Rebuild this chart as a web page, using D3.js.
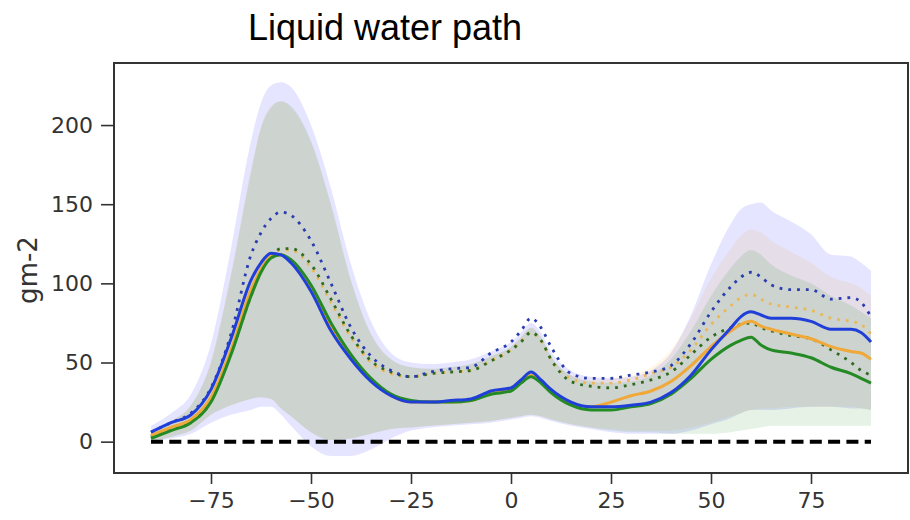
<!DOCTYPE html>
<html>
<head>
<meta charset="utf-8">
<script src="https://cdn.jsdelivr.net/npm/d3@7"></script>
<style>
  html, body { margin: 0; padding: 0; background: #fff; }
  svg { display: block; }
</style>
</head>
<body>
<svg id="chart" width="910" height="520"></svg>
<script>
// ---------- data ----------
const title = "Liquid water path";
const yLabel = "gm-2";
const xTicks = [-75, -50, -25, 0, 25, 50, 75];
const yTicks = [0, 50, 100, 150, 200];

const lat = [-90,-85,-80,-75,-70,-65,-62.5,-60,-57.5,-55,-50,-45,-40,-35,-30,-25,-20,-15,-10,-5,
  0,2.5,5,7.5,10,15,20,25,30,35,40,45,50,55,57.5,60,62.5,65,70,75,80,85,87.5,90];

const blueSolid = [6,12,17,33,65,102,113,119,118,113,95,70,52,38,29,25,25,26,27,32,
  34,39,44,39,33,25,22,22,23,25,31,42,58,72,79,82,80,78,78,76,71,71,69,63];
const greenSolid = [2,7,12,25,55,92,107,116,118,115,99,75,55,40,30,26,25,25,26,30,
  32,37,41,37,31,23,20,20,22,24,30,40,52,61,64,66,61,58,56,53,47,43,40,37];
const orangeSolid = [4,9,14,28,58,96,109,117,118,114,97,72,53,39,29,25,25,25,26,31,
  33,38,42,38,32,24,22,25,29,32,38,48,60,70,74,76,73,71,68,65,60,57,56,52];

const blueDotted = [6,12,18,34,68,118,132,141,145,143,127,100,72,54,45,41,44,46,47,56,
  63,70,78,72,60,43,40,40,42,44,48,62,82,98,104,107,104,99,96,96,90,91,88,79];
const greenDotted = [3,8,13,26,56,92,108,117,122,122,112,90,67,51,44,41,43,44,45,51,
  58,63,69,64,52,38,35,34,36,39,44,55,66,72,74,75,72,70,67,65,58,50,45,42];
const orangeDotted = [3,8,13,26,57,93,109,118,121,121,110,88,66,50,43,41,43,44,45,51,
  58,63,69,64,52,40,37,37,39,43,47,58,74,86,91,93,90,87,85,83,78,76,74,68];

const blueLo = [0,2,5,12,17,20,22,22,17,10,-3,-9,-9,-5,2,7,9,10,11,12,
  14,15,16,15,13,10,8,6,5,5,5,7,11,15,18,20,20,20,21,22,22,21,21,20];
const blueHi = [10,18,30,62,122,190,214,225,227,224,200,160,112,76,56,50,49,50,52,57,
  63,69,75,69,57,45,41,40,41,45,56,80,112,138,147,150,151,146,139,131,118,117,113,108];
const greenLo = [0,3,7,17,23,27,28,27,21,16,6,1,2,5,8,9,10,11,12,13,
  15,16,17,16,14,11,9,7,6,6,5,5,5,6,7,8,9,10,10,10,10,10,10,10];
const greenHi = [7,13,23,50,105,170,198,211,215,212,190,150,102,68,52,47,46,47,49,54,
  60,66,72,66,54,42,38,37,38,42,52,70,92,110,117,121,118,112,105,100,92,86,82,78];
const orangeLo = [0,3,7,17,23,27,28,27,21,16,6,1,2,5,8,9,10,11,12,13,
  15,16,17,16,14,11,9,8,7,7,7,9,12,16,18,20,21,21,22,22,22,22,21,20];
const orangeHi = [7,13,23,51,106,172,199,212,215,211,189,149,101,68,52,47,46,47,49,54,
  60,66,72,66,54,42,39,40,42,47,58,78,103,122,130,134,132,127,120,113,104,100,97,92];

const zeroLine = [0, 0];
const zeroLat = [-90, 90];

// ---------- layout ----------
const svg = d3.select("#chart");
const plotL = 115, plotR = 907, plotT = 63, plotB = 473;

const x = d3.scaleLinear().domain([-99, 99]).range([plotL, plotR]);
const y = d3.scaleLinear().domain([-19.8, 239.2]).range([plotB, plotT]);

const curve = d3.curveMonotoneX;

// bands (orange, blue, green order for a neutral grey overlap)
const bands = [
  {lo: orangeLo, hi: orangeHi, color: "#ffa500"},
  {lo: blueLo, hi: blueHi, color: "#0000ff"},
  {lo: greenLo, hi: greenHi, color: "#008000"}
];
bands.forEach(b => {
  const area = d3.area()
    .x((d, i) => x(lat[i]))
    .y0((d, i) => y(b.lo[i]))
    .y1((d, i) => y(b.hi[i]))
    .curve(curve);
  svg.append("path")
    .attr("d", area(lat))
    .attr("fill", b.color)
    .attr("fill-opacity", 0.1)
    .attr("stroke", "none");
});

// zero dashed line
svg.append("line")
  .attr("x1", x(zeroLat[0])).attr("x2", x(zeroLat[1]))
  .attr("y1", y(zeroLine[0])).attr("y2", y(zeroLine[1]))
  .attr("stroke", "#000")
  .attr("stroke-width", 4)
  .attr("stroke-dasharray", "12,6.3");

const line = vals => d3.line()
  .x((d, i) => x(lat[i]))
  .y((d, i) => y(vals[i]))
  .curve(curve)(lat);

// dotted lines
const dotted = [
  {v: orangeDotted, c: "#eab85a"},
  {v: greenDotted, c: "#2f6a1e"},
  {v: blueDotted, c: "#2a3cb0"}
];
dotted.forEach(s => {
  svg.append("path")
    .attr("d", line(s.v))
    .attr("fill", "none")
    .attr("stroke", s.c)
    .attr("stroke-width", 2.8)
    .attr("stroke-dasharray", "2.8,6");
});

// solid lines
const solid = [
  {v: orangeSolid, c: "#f0a838"},
  {v: greenSolid, c: "#248a24"},
  {v: blueSolid, c: "#1f3fd8"}
];
solid.forEach(s => {
  svg.append("path")
    .attr("d", line(s.v))
    .attr("fill", "none")
    .attr("stroke", s.c)
    .attr("stroke-width", 3)
    .attr("stroke-linejoin", "round");
});

// frame
svg.append("rect")
  .attr("x", 114).attr("y", 63)
  .attr("width", 908 - 114).attr("height", 473 - 63)
  .attr("fill", "none")
  .attr("stroke", "#333")
  .attr("stroke-width", 2);

// axes
const xAxis = d3.axisBottom(x).tickValues(xTicks).tickSize(11).tickPadding(8);
const gx = svg.append("g").attr("transform", `translate(0,${plotB})`).call(xAxis);
gx.select(".domain").remove();
gx.selectAll(".tick line").attr("stroke", "#333").attr("stroke-width", 1.6);
gx.selectAll("text")
  .attr("font-family", "DejaVu Sans")
  .attr("font-size", 22)
  .attr("fill", "#333");

const yAxis = d3.axisLeft(y).tickValues(yTicks).tickSize(13).tickPadding(8);
const gy = svg.append("g").attr("transform", `translate(114,0)`).call(yAxis);
gy.select(".domain").remove();
gy.selectAll(".tick line").attr("stroke", "#333").attr("stroke-width", 1.6);
gy.selectAll("text")
  .attr("font-family", "DejaVu Sans")
  .attr("font-size", 22)
  .attr("fill", "#333");

// title
svg.append("text")
  .attr("x", 385).attr("y", 40)
  .attr("text-anchor", "middle")
  .attr("font-family", "Liberation Sans, Arial, sans-serif")
  .attr("font-size", 36)
  .attr("fill", "#000")
  .text(title);

// y label
svg.append("text")
  .attr("transform", "translate(37,270) rotate(-90)")
  .attr("text-anchor", "middle")
  .attr("font-family", "DejaVu Sans")
  .attr("font-size", 26)
  .attr("fill", "#333")
  .text(yLabel);
</script>
</body>
</html>
